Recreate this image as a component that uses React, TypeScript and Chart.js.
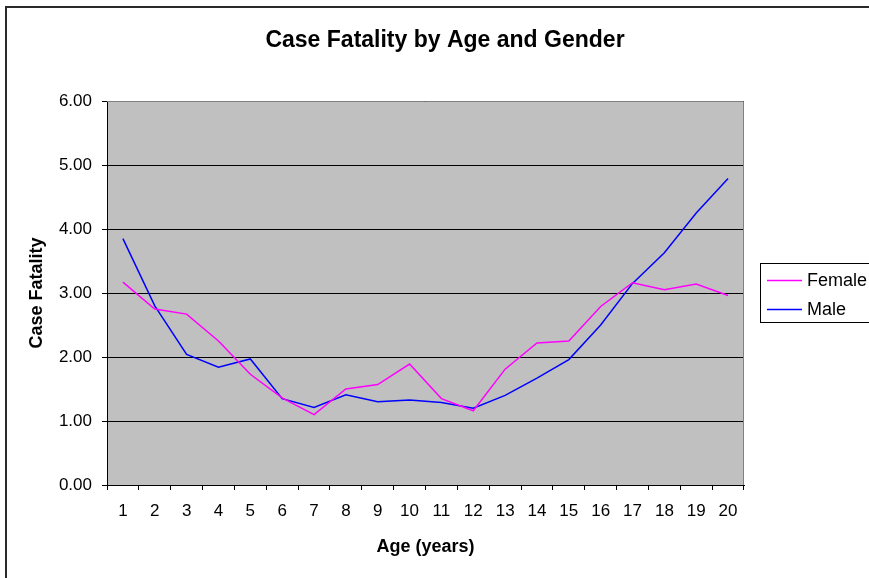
import React, { useEffect, useRef } from "react";
import { Chart, registerables } from "chart.js";

Chart.register(...registerables);

const TITLE = "Case Fatality by Age and Gender";
const X_TITLE = "Age (years)";
const Y_TITLE = "Case Fatality";
const ages = ["1","2","3","4","5","6","7","8","9","10","11","12","13","14","15","16","17","18","19","20"];
const female = [3.17, 2.75, 2.67, 2.25, 1.73, 1.36, 1.10, 1.50, 1.57, 1.89, 1.35, 1.16, 1.81, 2.22, 2.25, 2.79, 3.16, 3.05, 3.14, 2.96];
const male = [3.85, 2.80, 2.04, 1.84, 1.97, 1.35, 1.21, 1.41, 1.30, 1.33, 1.29, 1.20, 1.40, 1.67, 1.96, 2.50, 3.15, 3.63, 4.25, 4.79];
const seriesNames = ["Female", "Male"];
const seriesColors = ["#FF00FF", "#0000FF"];

const FONT = '"Liberation Sans", Arial, sans-serif';

const decorPlugin = {
  id: "decor",
  beforeDraw(chart: any) {
    const { ctx, chartArea, width, height } = chart;
    ctx.save();
    ctx.fillStyle = "#ffffff";
    ctx.fillRect(0, 0, width, height);
    ctx.strokeStyle = "#2a2a2a";
    ctx.lineWidth = 2;
    ctx.strokeRect(6, 7, width + 40, height + 40);
    ctx.fillStyle = "#C0C0C0";
    ctx.fillRect(chartArea.left, chartArea.top, chartArea.right - chartArea.left, chartArea.bottom - chartArea.top);
    ctx.restore();
  },
  afterDraw(chart: any) {
    const { ctx, chartArea } = chart;
    ctx.save();
    // plot area border (top, right)
    ctx.strokeStyle = "#808080";
    ctx.lineWidth = 1;
    ctx.beginPath();
    ctx.moveTo(chartArea.left, chartArea.top + 0.5);
    ctx.lineTo(chartArea.right - 0.5, chartArea.top + 0.5);
    ctx.lineTo(chartArea.right - 0.5, chartArea.bottom);
    ctx.stroke();

    // title
    ctx.fillStyle = "#000";
    ctx.font = `bold 23px ${FONT}`;
    ctx.textAlign = "center";
    ctx.textBaseline = "middle";
    ctx.fillText(TITLE, 445, 41);

    // legend
    const boxLeft = chartArea.right + 16;
    const cy = (chartArea.top + chartArea.bottom) / 2;
    const boxTop = Math.round(cy - 30) + 0.5;
    ctx.strokeStyle = "#000";
    ctx.lineWidth = 1;
    ctx.strokeRect(boxLeft + 0.5, boxTop, 200, 59);
    const ds = chart.data.datasets;
    ds.forEach((d: any, i: number) => {
      const y = boxTop + 17 + i * 29;
      ctx.strokeStyle = d.borderColor;
      ctx.lineWidth = 1.5;
      ctx.beginPath();
      ctx.moveTo(boxLeft + 7, y);
      ctx.lineTo(boxLeft + 42, y);
      ctx.stroke();
      ctx.fillStyle = "#000";
      ctx.font = `18px ${FONT}`;
      ctx.textAlign = "left";
      ctx.textBaseline = "middle";
      ctx.fillText(d.label, boxLeft + 47, y + 1);
    });
    ctx.restore();
  },
};

export default function App() {
  const ref = useRef<HTMLCanvasElement | null>(null);
  useEffect(() => {
    if (!ref.current) return;
    const chart = new Chart(ref.current, {
      type: "line",
      data: {
        labels: ages,
        datasets: [
          { label: seriesNames[0], data: female, borderColor: seriesColors[0], backgroundColor: seriesColors[0], borderWidth: 1.5, pointRadius: 0, tension: 0, fill: false },
          { label: seriesNames[1], data: male, borderColor: seriesColors[1], backgroundColor: seriesColors[1], borderWidth: 1.5, pointRadius: 0, tension: 0, fill: false },
        ],
      },
      options: {
        responsive: false,
        animation: false,
        devicePixelRatio: 1,
        layout: { padding: { left: 20, top: 101, right: 125, bottom: 10 } },
        plugins: {
          legend: { display: false },
          title: { display: false },
          tooltip: { enabled: false },
        },
        scales: {
          x: {
            offset: true,
            grid: { offset: true, drawOnChartArea: false, drawTicks: true, tickLength: 5, color: "#000", lineWidth: 1 },
            border: { color: "#000", width: 1 },
            ticks: { color: "#000", font: { family: FONT, size: 17 }, padding: 11, maxRotation: 0, autoSkip: false },
            title: { display: true, text: X_TITLE, color: "#000", font: { family: FONT, size: 18, weight: "bold" }, padding: { top: 0, bottom: 10 } },
            afterFit(scale: any) { scale.height = 83; },
          },
          y: {
            min: 0,
            max: 6,
            grid: { color: "#000", lineWidth: 1, tickLength: 5, drawTicks: true },
            border: { color: "#000", width: 1 },
            ticks: { stepSize: 1, color: "#000", font: { family: FONT, size: 17 }, padding: 10, callback: (v: any) => Number(v).toFixed(2) },
            title: { display: true, text: Y_TITLE, color: "#000", font: { family: FONT, size: 18, weight: "bold" }, padding: { top: 6, bottom: 0 } },
            afterFit(scale: any) { scale.width = 87; },
          },
        },
      },
      plugins: [decorPlugin],
    });
    return () => chart.destroy();
  }, []);
  return (
    <div style={{ position: "absolute", left: 0, top: 0, width: 869, height: 578 }}>
      <canvas ref={ref} width={869} height={578} style={{ display: "block", width: 869, height: 578 }} />
    </div>
  );
}
